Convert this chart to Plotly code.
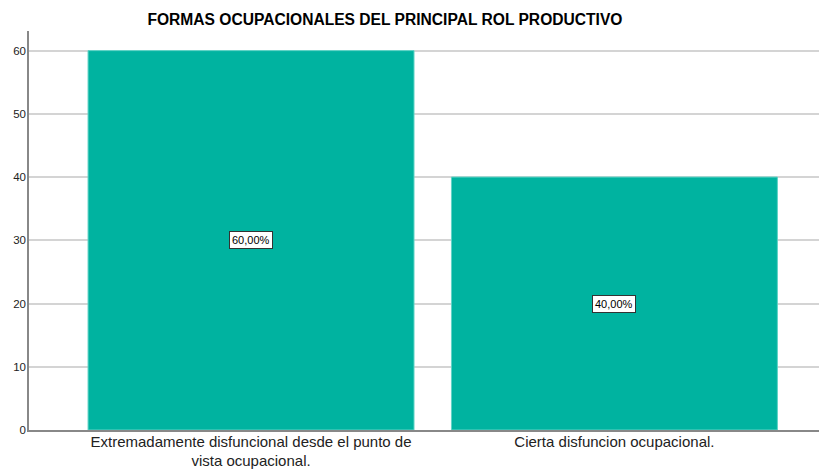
import plotly.graph_objects as go

title = "FORMAS OCUPACIONALES DEL PRINCIPAL ROL PRODUCTIVO"
categories = ["Extremadamente disfuncional desde el punto de<br>vista ocupacional.",
              "Cierta disfuncion ocupacional."]
values = [60, 40]
y_ticks = [0, 10, 20, 30, 40, 50, 60]

total = sum(values)
labels = [f"{v / total * 100:.2f}%".replace(".", ",") for v in values]

fig = go.Figure()
fig.add_trace(go.Bar(
    x=categories, y=values, width=0.897,
    marker=dict(color="#00B3A0", line=dict(color="#5fd3c6", width=1)),
    hoverinfo="skip",
))

for c, v, t in zip(categories, values, labels):
    fig.add_annotation(x=c, y=v / 2, text=t, showarrow=False,
                       font=dict(family="Liberation Sans, Arial", size=11, color="#000"),
                       bgcolor="white", bordercolor="#333", borderwidth=1, borderpad=2)

# page body has an 8px default margin, so offsets compensate for it
fig.update_layout(
    width=827, height=472,
    margin=dict(l=21, r=8, t=23, b=50),
    paper_bgcolor="white", plot_bgcolor="white",
    showlegend=False,
    title=dict(text="<b>" + title + "</b>", x=0.446, xref="paper", xanchor="center",
               y=1 - 12 / 472, yref="container", yanchor="middle",
               font=dict(family="Liberation Sans, Arial", size=15.6, color="#000")),
    font=dict(family="Liberation Sans, Arial"),
    bargap=0.1,
)
fig.update_xaxes(range=[-0.611, 1.585], showline=True, linecolor="#888", linewidth=1.5,
                 ticks="", showgrid=False, automargin=False, ticklabelstandoff=-3,
                 tickfont=dict(size=15, color="#222"))
fig.update_yaxes(range=[0, 63.1], tickvals=y_ticks, showline=True, linecolor="#888", linewidth=1.5,
                 showgrid=True, gridcolor="#d4d4d4", gridwidth=1.5, ticks="", zeroline=False,
                 automargin=False, ticklabelstandoff=-1,
                 tickfont=dict(size=11.5, color="#222"))

fig.write_html("out.html")
